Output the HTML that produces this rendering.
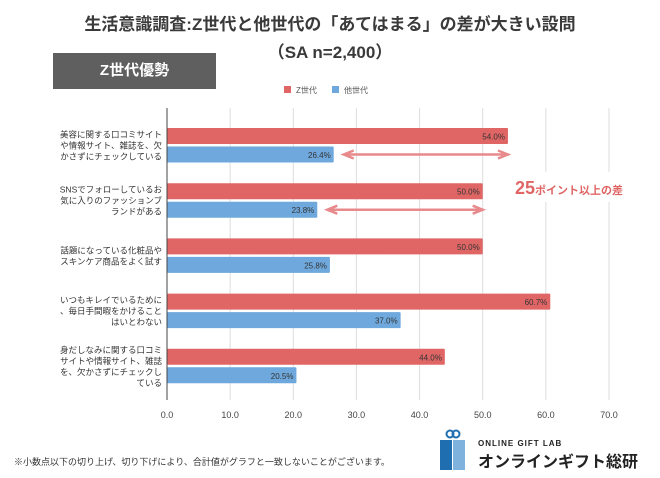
<!DOCTYPE html>
<html><head><meta charset="utf-8">
<style>
body{margin:0;background:#fff;}
#root{position:relative;width:660px;height:478px;overflow:hidden;font-family:"Liberation Sans","Noto Sans CJK JP",sans-serif;}
.title{position:absolute;left:0;width:660px;text-align:center;font-weight:bold;color:#3a3a3a;}
</style></head>
<body>
<div id="root">
<div class="title" style="top:10px;font-size:17px;">生活意識調査:Z世代と他世代の「あてはまる」の差が大きい設問</div>
<div class="title" style="top:38px;font-size:17px;">（SA n=2,400）</div>
<div style="position:absolute;left:53px;top:53px;width:163px;height:36px;background:#5f5f5f;color:#fff;font-weight:bold;font-size:15px;line-height:36px;text-align:center;">Z世代優勢</div>
<svg id="chart" width="660" height="478" style="position:absolute;left:0;top:0;"></svg>
<div style="position:absolute;left:14px;top:455px;font-size:9px;color:#333;">※小数点以下の切り上げ、切り下げにより、合計値がグラフと一致しないことがございます。</div>
<div style="position:absolute;left:438px;top:428px;width:200px;height:44px;">
  <svg width="30" height="44" style="position:absolute;left:0;top:0">
    <circle cx="12" cy="6" r="3.5" fill="none" stroke="#1f6fb0" stroke-width="2"/>
    <circle cx="18" cy="6" r="3.5" fill="none" stroke="#1f6fb0" stroke-width="2"/>
    <rect x="2" y="12" width="12" height="30" fill="#1f6fb0"/>
    <rect x="15" y="12" width="12" height="30" fill="#7fb3dd"/>
  </svg>
  <div style="position:absolute;left:40px;top:11px;font-size:8px;font-weight:bold;letter-spacing:1px;color:#222;">ONLINE GIFT LAB</div>
  <div style="position:absolute;left:40px;top:20px;font-size:16px;font-weight:bold;color:#222;">オンラインギフト総研</div>
</div>
</div>
<script>
const categories=[
 ["美容に関する口コミサイト","や情報サイト、雑誌を、欠","かさずにチェックしている"],
 ["SNSでフォローしているお","気に入りのファッションブ","ランドがある"],
 ["話題になっている化粧品や","スキンケア商品をよく試す"],
 ["いつもキレイでいるために","、毎日手間暇をかけること","はいとわない"],
 ["身だしなみに関する口コミ","サイトや情報サイト、雑誌","を、欠かさずにチェックし","ている"]
];
const zValues=[54.0,50.0,50.0,60.7,44.0];
const otherValues=[26.4,23.8,25.8,37.0,20.5];
const ticks=[0,10,20,30,40,50,60,70];
const seriesNames=["Z世代","他世代"];

const svg=document.getElementById('chart');
const NS='http://www.w3.org/2000/svg';
const x0=167,x1=609,yTop=108,yBottom=400;
const xs=v=>x0+(x1-x0)*v/70;
const rowY=i=>128+i*55.2;
function mk(t,a){const e=document.createElementNS(NS,t);for(const k in a)e.setAttribute(k,a[k]);svg.appendChild(e);return e;}

ticks.forEach(t=>{
 const g=mk('line',{x1:xs(t),x2:xs(t),y1:yTop,y2:yBottom,stroke:t===0?'#444':'#ddd','stroke-width':1});
 
 
 const l=mk('text',{x:xs(t),y:418,'font-size':9,'text-anchor':'middle',fill:'#444'});
 l.textContent=t.toFixed(1);
 
 
});
mk('rect',{x:510,y:172,width:130,height:30,fill:'#fff'});

categories.forEach((lines,i)=>{
 const y=rowY(i);
 const r=mk('rect',{x:x0,y:y,width:xs(zValues[i])-x0,height:16,fill:'#e06666',rx:1});
 
 
 const b=mk('rect',{x:x0,y:y+18.5,width:xs(otherValues[i])-x0,height:16,fill:'#6fa8dc',rx:1});
 
 
 const zt=mk('text',{x:xs(zValues[i])-3,y:y+11.5,'font-size':8,'text-anchor':'end',fill:'#333'});
 zt.textContent=zValues[i].toFixed(1)+'%';
 
 
 const ot=mk('text',{x:xs(otherValues[i])-3,y:y+30,'font-size':8,'text-anchor':'end',fill:'#333'});
 ot.textContent=otherValues[i].toFixed(1)+'%';
 
 
 const cy=y+17-(lines.length-1)*5.5;
 lines.forEach((s,j)=>{
  const t=mk('text',{x:162,y:cy+j*11+3.5,'font-size':8.5,'text-anchor':'end',fill:'#333'});
  t.textContent=s;
  
  
 });
});
mk('line',{x1:x0,x2:x0,y1:yTop,y2:yBottom,stroke:'#444'});

[0,1].forEach(i=>{
 const y=rowY(i)+26.5, a=xs(otherValues[i])+10, c=xs(zValues[i]);
 const g=mk('path',{d:`M${a} ${y}L${c} ${y}M${a+10} ${y-4}L${a} ${y}L${a+10} ${y+4}M${c-10} ${y-4}L${c} ${y}L${c-10} ${y+4}`,stroke:'#e8898b','stroke-width':2.5,fill:'none'});
 
 
});
const ann=mk('text',{x:515,y:194,fill:'#e06666','font-weight':'bold','font-size':18});
ann.innerHTML='25<tspan font-size="11">ポイント以上の差</tspan>';



const colors=['#e06666','#6fa8dc'];
seriesNames.forEach((n,i)=>{
 const lx=284+i*48;
 const r=mk('rect',{x:lx,y:86,width:7,height:7,fill:colors[i]});
 
 
 const t=mk('text',{x:lx+12,y:93,'font-size':8,fill:'#555'});
 t.textContent=n;
 
 
});
</script>
</body></html>
